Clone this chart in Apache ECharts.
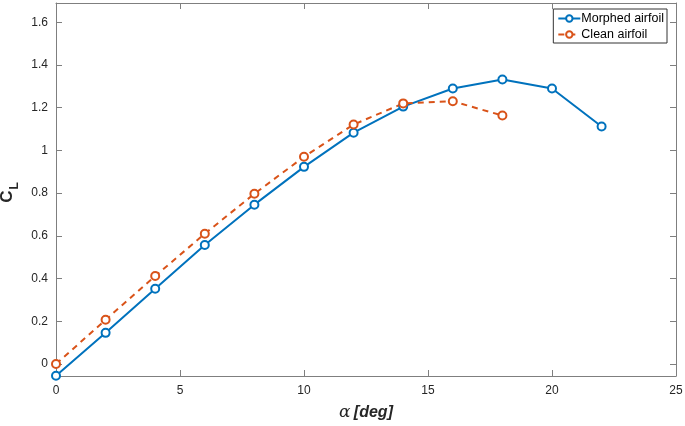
<!DOCTYPE html>
<html>
<head>
<meta charset="utf-8">
<script src="https://cdn.jsdelivr.net/npm/echarts@6/dist/echarts.min.js"></script>
<style>html,body{margin:0;padding:0;background:#fff}#c{width:685px;height:426px}</style>
</head>
<body>
<div id="c"></div>
<script>
const alphaMorphed = [0, 2, 4, 6, 8, 10, 12, 14, 16, 18, 20, 22];
const clMorphed = [-0.055, 0.146, 0.352, 0.557, 0.746, 0.923, 1.083, 1.205, 1.29, 1.332, 1.29, 1.112];
const alphaClean = [0, 2, 4, 6, 8, 10, 12, 14, 16, 18];
const clClean = [0.0, 0.207, 0.412, 0.61, 0.797, 0.97, 1.121, 1.22, 1.23, 1.163];
const yTicks = [0, 0.2, 0.4, 0.6, 0.8, 1, 1.2, 1.4, 1.6];
const seriesNames = ['Morphed airfoil', 'Clean airfoil'];

const font = 'Liberation Sans, Arial, sans-serif';
const axisCol = '#7f7f7f';
const txtCol = '#262626';
const chart = echarts.init(document.getElementById('c'), null, {renderer: 'canvas'});
const pair = (xs, ys) => xs.map((x, i) => [x, ys[i]]);
const yMin = -0.056, yMax = 1.69;
chart.setOption({
  animation: false,
  grid: {left: 56, right: 9, top: 3, bottom: 50, containLabel: false, outerBoundsMode: 'none'},
  legend: {
    right: 18, top: 9, orient: 'vertical',
    backgroundColor: '#fff', borderColor: '#333', borderWidth: 1, borderRadius: 0,
    padding: [3, 3, 2, 4], itemGap: 3, itemWidth: 22, itemHeight: 8,
    textStyle: {fontFamily: font, fontSize: 12.5, color: '#000', padding: [0, 0, 0, -4]},
    data: seriesNames
  },
  xAxis: [{
    type: 'value', min: 0, max: 25, interval: 5,
    axisLine: {show: true, onZero: false, lineStyle: {color: axisCol, width: 1}},
    axisTick: {show: true, inside: true, length: 6, lineStyle: {color: axisCol}},
    axisLabel: {fontFamily: font, fontSize: 12, color: txtCol, margin: 9},
    splitLine: {show: false},
    name: '{a|α} {b|[deg]}', nameLocation: 'middle', nameGap: 28,
    nameTextStyle: {rich: {
      a: {fontFamily: 'DejaVu Serif, serif', fontStyle: 'italic', fontSize: 17, color: txtCol},
      b: {fontFamily: font, fontStyle: 'italic', fontWeight: 'bold', fontSize: 16, color: txtCol}
    }}
  }, {
    type: 'value', min: 0, max: 25, interval: 5, position: 'top',
    axisLine: {show: true, onZero: false, lineStyle: {color: axisCol, width: 1}},
    axisTick: {show: true, inside: true, length: 6, lineStyle: {color: axisCol}},
    axisLabel: {show: false}, splitLine: {show: false}
  }],
  yAxis: [{
    type: 'value', min: yMin, max: yMax,
    axisLine: {show: true, onZero: false, lineStyle: {color: axisCol, width: 1}},
    axisTick: {show: true, inside: true, length: 6, lineStyle: {color: axisCol}, customValues: yTicks},
    axisLabel: {fontFamily: font, fontSize: 12, color: txtCol, margin: 8, customValues: yTicks},
    splitLine: {show: false},
    name: '{c|C}{l|L}', nameLocation: 'middle', nameGap: 32, nameRotate: 90,
    nameTextStyle: {padding: [0, 6, 0, 0], rich: {
      c: {fontFamily: font, fontWeight: 'bold', fontSize: 17, color: txtCol},
      l: {fontFamily: font, fontWeight: 'bold', fontSize: 12, color: txtCol, verticalAlign: 'bottom', padding: [14, 0, 0, 1]}
    }}
  }, {
    type: 'value', min: yMin, max: yMax, position: 'right',
    axisLine: {show: true, onZero: false, lineStyle: {color: axisCol, width: 1}},
    axisTick: {show: true, inside: true, length: 6, lineStyle: {color: axisCol}, customValues: yTicks},
    axisLabel: {show: false, customValues: yTicks}, splitLine: {show: false}
  }],
  series: [{
    name: seriesNames[0], type: 'line', data: pair(alphaMorphed, clMorphed),
    symbol: 'emptyCircle', symbolSize: 8, showAllSymbol: true,
    itemStyle: {color: '#0072BD', borderWidth: 1.8},
    lineStyle: {color: '#0072BD', width: 2}
  }, {
    name: seriesNames[1], type: 'line', data: pair(alphaClean, clClean),
    symbol: 'emptyCircle', symbolSize: 8, showAllSymbol: true,
    itemStyle: {color: '#D95319', borderWidth: 1.8},
    lineStyle: {color: '#D95319', width: 2, type: [6, 5]}
  }]
});
</script>
</body>
</html>
